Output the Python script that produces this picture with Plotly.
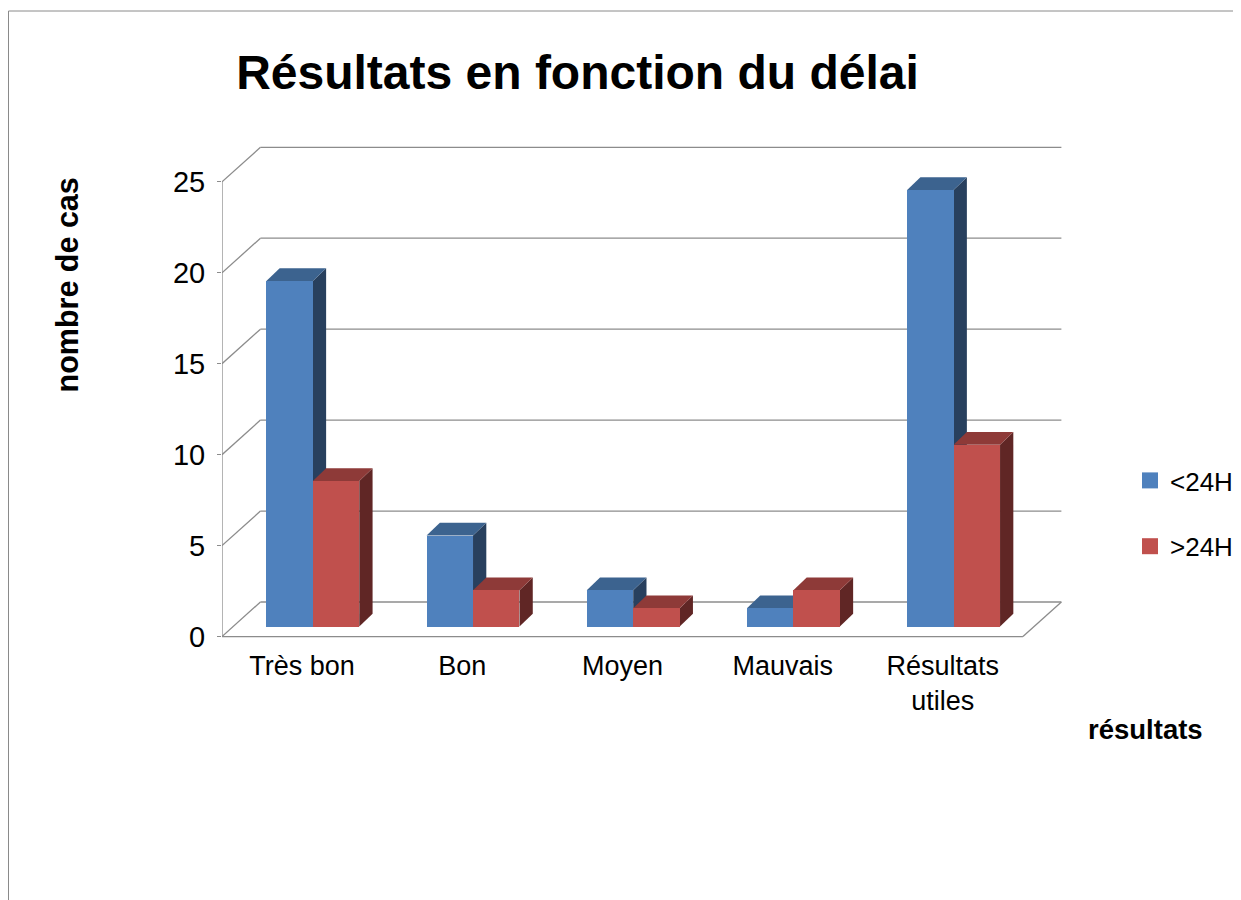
import plotly.graph_objects as go

# ---------------- data ----------------
categories = ["Très bon", "Bon", "Moyen", "Mauvais", "Résultats<br>utiles"]
series_names = ["&lt;24H", "&gt;24H"]
values_lt24 = [19, 5, 2, 1, 24]
values_gt24 = [8, 2, 1, 2, 10]
y_ticks = [0, 5, 10, 15, 20, 25]

# ---------------- style ----------------
front_colors = ["#4F81BD", "#C0504D"]
top_colors = ["#3C638F", "#8E3A38"]
side_colors = ["#28405E", "#602625"]
grid_color = "#8C8C8C"
SANS = "Liberation Sans, Arial, sans-serif"

# pseudo-3D geometry (data units)
DX, DY = 0.24, 1.9        # full depth of the floor / walls
FX, FY = 0.067, 0.55      # offset of bar front faces from front plane
BX, BY = 0.083, 0.70      # depth of each bar
W = 0.29                  # bar width
n = len(categories)
xmin, xmax = -0.5, n - 0.5
ymax_axis = y_ticks[-1]

FIG_W, FIG_H = 1233, 892
UNIT_X = 160.2                      # px per category
x_range = [xmin, xmax + DX + 0.06]
L, T, B = 214, 132, 258
plot_w = round((x_range[1] - x_range[0]) * UNIT_X)
R = FIG_W - L - plot_w
plot_h = FIG_H - T - B
y_range = [-0.3, 27.3]


def px_x(p):
    return (p - L) / plot_w


def px_y(p):
    return (FIG_H - B - p) / plot_h


fig = go.Figure()

shapes = []
line_style = dict(color=grid_color, width=1.3)
# back wall gridlines + left-wall diagonals
for v in y_ticks:
    shapes.append(dict(type="line", xref="x", yref="y", layer="below",
                       x0=xmin + DX, y0=v + DY, x1=xmax + DX, y1=v + DY, line=line_style))
    shapes.append(dict(type="line", xref="x", yref="y", layer="below",
                       x0=xmin, y0=v, x1=xmin + DX, y1=v + DY, line=line_style))
# floor front edge and right edge
shapes.append(dict(type="line", xref="x", yref="y", layer="below",
                   x0=xmin, y0=0, x1=xmax, y1=0, line=line_style))
shapes.append(dict(type="line", xref="x", yref="y", layer="below",
                   x0=xmax, y0=0, x1=xmax + DX, y1=DY, line=line_style))
# front vertical axis
shapes.append(dict(type="line", xref="x", yref="y", layer="below",
                   x0=xmin, y0=0, x1=xmin, y1=ymax_axis, line=line_style))


def path(pts):
    return "M " + " L ".join(f"{x:.4f},{y:.4f}" for x, y in pts) + " Z"


series = [values_lt24, values_gt24]
for i in range(n):
    for s, vals in enumerate(series):
        v = vals[i]
        x0 = i + FX - W + s * W
        x1 = x0 + W
        b = FY
        t = FY + v
        side = [(x1, b), (x1, t), (x1 + BX, t + BY), (x1 + BX, b + BY)]
        top = [(x0, t), (x1, t), (x1 + BX, t + BY), (x0 + BX, t + BY)]
        shapes.append(dict(type="path", xref="x", yref="y", layer="below",
                           path=path(side), fillcolor=side_colors[s], line=dict(width=0)))
        shapes.append(dict(type="path", xref="x", yref="y", layer="below",
                           path=path(top), fillcolor=top_colors[s], line=dict(width=0)))

# front faces as real bars
for s, vals in enumerate(series):
    fig.add_trace(go.Bar(
        x=[i + FX - W + s * W + W / 2 for i in range(n)],
        y=vals, base=FY, width=W,
        marker=dict(color=front_colors[s], line=dict(width=0)),
        name=series_names[s], showlegend=False,
    ))

# legend entries
for s in range(2):
    fig.add_trace(go.Scatter(
        x=[None], y=[None], mode="markers", name=series_names[s],
        legendgroup=f"g{s}",
        marker=dict(symbol="square", size=16, color=front_colors[s]),
    ))

# border of the chart frame
shapes.append(dict(type="line", xref="paper", yref="paper",
                   x0=px_x(0.5), y0=px_y(3), x1=px_x(FIG_W), y1=px_y(3),
                   line=dict(color="#8A8A8A", width=1)))
shapes.append(dict(type="line", xref="paper", yref="paper",
                   x0=px_x(0.5), y0=px_y(3), x1=px_x(0.5), y1=px_y(FIG_H),
                   line=dict(color="#8A8A8A", width=1)))

annotations = [
    dict(text="<b>nombre de cas</b>", xref="paper", yref="paper",
         x=px_x(58), y=px_y(277.5), textangle=-90,
         showarrow=False, xanchor="center", yanchor="middle",
         font=dict(family=SANS, size=30.5, color="black")),
    dict(text="<b>résultats</b>", xref="paper", yref="paper",
         x=px_x(1137), y=px_y(721), showarrow=False,
         xanchor="center", yanchor="middle",
         font=dict(family=SANS, size=27.5, color="black")),
]

fig.update_layout(
    width=FIG_W, height=FIG_H,
    margin=dict(l=L, r=R, t=T, b=B, autoexpand=False),
    paper_bgcolor="white", plot_bgcolor="white",
    barmode="overlay", bargap=0,
    title=dict(text="<b>Résultats en fonction du délai</b>",
               x=px_x(569.5), xref="paper", xanchor="center",
               y=1 - 64 / FIG_H, yref="container", yanchor="middle",
               font=dict(family=SANS, size=48, color="black")),
    xaxis=dict(range=x_range, tickmode="array", tickvals=list(range(n)),
               ticktext=categories, showgrid=False, zeroline=False, showline=False,
               ticks="", ticklabelstandoff=5,
               tickfont=dict(family=SANS, size=27, color="black")),
    yaxis=dict(range=y_range, tickmode="array", tickvals=y_ticks,
               ticktext=[str(v) for v in y_ticks], showgrid=False, zeroline=False,
               showline=False, ticks="outside", ticklen=4, tickcolor=grid_color,
               tickwidth=1.3, ticklabelstandoff=6,
               tickfont=dict(family=SANS, size=29, color="black")),
    showlegend=True,
    legend=dict(x=px_x(1122), xanchor="left",
                y=px_y(449), yanchor="top",
                tracegroupgap=29, bgcolor="rgba(0,0,0,0)",
                font=dict(family=SANS, size=26, color="black")),
    shapes=shapes,
    annotations=annotations,
)

fig.write_html("out.html")
